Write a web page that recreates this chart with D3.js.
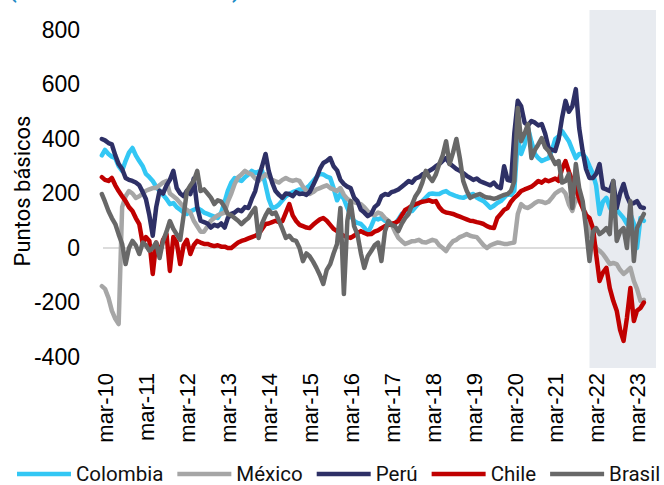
<!DOCTYPE html>
<html><head><meta charset="utf-8">
<script src="https://cdn.jsdelivr.net/npm/d3@7"></script>
<style>body{margin:0;background:#fff}svg{display:block}</style>
</head><body>
<svg id="c" width="664" height="485"></svg>
<script>
// Monthly observations starting Feb-2010 (index 0) to May-2023 (index 159)
const startMonth = new Date(2010, 1, 1);
const seriesNames = ["Colombia", "México", "Perú", "Chile", "Brasil"];
const seriesColors = ["#33c7f4", "#a6a6a6", "#2e3066", "#c00000", "#686868"];
const xTickLabels = ["mar-10","mar-11","mar-12","mar-13","mar-14","mar-15","mar-16","mar-17","mar-18","mar-19","mar-20","mar-21","mar-22","mar-23"];
const yTicks = [-400, -200, 0, 200, 400, 600, 800];
const shadeStart = new Date(2022, 0, 1);

const colombia = [340,360,345,335,330,300,283,320,350,367,340,319,300,272,260,246,225,209,195,180,161,165,150,140,130,125,135,140,147,140,130,125,120,115,110,130,170,210,240,257,250,246,260,270,283,275,280,283,230,180,147,150,160,175,190,198,205,210,215,215,220,230,245,260,272,270,262,257,220,175,198,180,147,120,99,92,88,75,55,80,110,105,110,100,95,90,88,105,125,130,134,136,150,165,172,185,198,200,198,198,205,209,200,195,190,186,184,190,195,198,185,178,172,160,147,155,165,172,185,198,195,210,400,345,380,440,390,345,330,319,325,330,360,400,410,429,410,392,360,330,345,345,330,300,272,230,125,170,184,150,125,140,125,110,88,125,90,0,110,100];
const mexico = [-140,-150,-183,-230,-260,-279,150,190,209,200,184,190,200,210,215,220,220,230,240,246,200,190,180,165,150,140,130,100,80,60,60,80,100,110,120,125,130,170,200,235,260,270,283,275,270,255,246,260,270,262,250,245,240,250,257,250,246,250,246,225,210,198,205,215,220,225,230,220,215,209,220,195,180,172,168,165,161,150,135,125,120,130,125,110,100,88,60,37,25,15,20,25,26,30,22,20,25,30,26,10,0,-11,10,25,30,40,45,51,45,42,40,25,10,0,10,15,20,18,15,15,18,20,125,161,150,147,155,165,172,170,165,170,185,200,209,215,200,160,136,180,172,150,125,51,30,0,-10,-22,-40,-59,-55,-59,-80,-95,-85,-73,-121,-150,-194,-190];
const peru = [400,395,385,380,340,308,290,257,250,246,240,230,205,180,120,45,150,210,200,230,250,283,220,200,190,210,198,255,150,100,95,90,75,85,80,90,75,110,125,130,140,135,150,147,180,209,260,300,345,283,240,209,195,184,200,198,190,205,198,200,195,205,230,257,290,312,319,330,300,285,250,235,225,220,185,172,140,130,117,125,150,161,190,198,195,205,209,215,225,235,246,240,255,260,270,275,283,290,300,308,320,330,310,300,290,283,275,265,257,250,255,245,240,235,230,240,225,220,300,250,246,420,540,520,460,450,466,460,450,455,420,367,360,356,400,477,540,500,520,583,440,356,290,257,257,272,308,220,215,209,246,147,200,235,190,161,165,172,150,147];
const chile = [260,250,246,257,230,209,190,172,150,136,110,88,15,40,26,-95,20,-22,30,51,-84,40,20,-59,10,30,-22,10,26,20,15,15,10,7,10,5,5,0,0,10,20,26,30,35,40,45,51,70,88,90,95,100,95,99,130,161,120,99,85,80,75,73,85,95,105,110,100,85,70,62,51,45,40,37,45,55,62,55,50,51,60,65,73,80,85,88,92,99,120,140,147,155,161,165,170,172,175,170,172,150,136,130,128,125,120,115,110,105,100,99,95,92,88,80,75,73,110,125,140,147,170,184,195,209,215,220,225,235,246,240,250,245,250,255,246,290,319,280,246,220,180,147,120,110,73,-22,-121,-90,-73,-147,-194,-230,-300,-341,-257,-147,-268,-230,-220,-200];
const brasil = [198,170,136,110,88,50,15,-59,0,26,10,-22,20,10,-10,0,20,-37,26,60,99,70,50,30,120,209,230,246,283,209,215,200,185,161,175,170,150,125,120,110,100,88,100,110,130,147,37,90,120,140,125,130,100,70,37,45,30,26,0,-48,-20,-30,-50,-73,-100,-132,-80,-59,-20,15,147,-169,100,172,80,50,-20,-73,-30,-11,10,20,-48,60,99,85,80,62,90,110,125,160,190,209,240,283,260,246,270,308,340,392,308,350,400,330,246,210,184,190,195,198,190,185,184,180,184,190,195,198,210,246,514,392,420,455,330,360,380,403,370,356,330,308,319,240,246,272,147,308,220,172,73,-48,60,73,51,60,73,51,246,26,60,73,0,172,-48,73,100,125];

const seriesValues = [colombia, mexico, peru, chile, brasil];
const dates = colombia.map((_, i) => d3.timeMonth.offset(startMonth, i));

const svg = d3.select("#c");
const x = d3.scaleTime().domain([new Date(2010, 2, 1), new Date(2023, 2, 1)]).range([105, 637]);
const y = d3.scaleLinear().domain([-400, 800]).range([357, 30]);
const plotRight = 656, plotTop = 10, plotBottom = 368;

// partially visible title (cut off at top)
svg.append("text").attr("x", 9).attr("y", -2).attr("fill", "#1f8cc6")
  .style("font", "bold 22px Roboto").text("(");
svg.append("text").attr("x", 232).attr("y", -2).attr("fill", "#1f8cc6")
  .style("font", "bold 22px Roboto").text(")");

// zero line
svg.append("line").attr("x1", 103).attr("x2", plotRight)
  .attr("y1", y(0)).attr("y2", y(0)).attr("stroke", "#dcdcdc").attr("stroke-width", 2);

// shaded period
svg.append("rect").attr("x", x(shadeStart)).attr("y", plotTop)
  .attr("width", plotRight - x(shadeStart)).attr("height", plotBottom - plotTop)
  .attr("fill", "#e8ebf0");

// lines
const line = d3.line().x((d, i) => x(dates[i])).y(d => y(d)).curve(d3.curveLinear);
seriesValues.forEach((vals, k) => {
  svg.append("path").datum(vals).attr("d", line).attr("fill", "none")
    .attr("stroke", seriesColors[k]).attr("stroke-width", 4.5)
    .attr("stroke-linejoin", "round").attr("stroke-linecap", "round");
});

// y axis
const yAxis = svg.append("g").attr("transform", "translate(80,0)")
  .call(d3.axisLeft(y).tickValues(yTicks).tickSize(0).tickPadding(0).tickFormat(d => String(d)));
yAxis.select(".domain").remove();
yAxis.selectAll("text").style("font", "23px 'Liberation Sans', Arial, sans-serif").attr("fill", "#000");

// x axis
const xTickDates = xTickLabels.map((_, i) => new Date(2010 + i, 2, 1));
const xAxis = svg.append("g").attr("transform", `translate(0,${plotBottom})`)
  .call(d3.axisBottom(x).tickValues(xTickDates).tickSize(0).tickFormat((d, i) => xTickLabels[i]));
xAxis.select(".domain").remove();
xAxis.selectAll("text")
  .style("font", "22px 'Liberation Sans', Arial, sans-serif").attr("fill", "#000")
  .attr("transform", "rotate(-90)").attr("text-anchor", "end")
  .attr("x", -5).attr("y", 0).attr("dy", "0.35em");

// y title
svg.append("text").attr("transform", "translate(30,191) rotate(-90)")
  .attr("text-anchor", "middle").style("font", "22px Roboto").attr("fill", "#000")
  .text("Puntos básicos");

// legend
let lx = 17;
const ly = 474;
seriesNames.forEach((name, k) => {
  svg.append("line").attr("x1", lx).attr("x2", lx + 54).attr("y1", ly).attr("y2", ly)
    .attr("stroke", seriesColors[k]).attr("stroke-width", 4.5);
  const t = svg.append("text").attr("x", lx + 59).attr("y", ly).attr("dy", "0.35em")
    .style("font", "20.5px Roboto").attr("fill", "#111").text(name);
  lx += 59 + t.node().getComputedTextLength() + 14;
});
</script>
</body></html>
